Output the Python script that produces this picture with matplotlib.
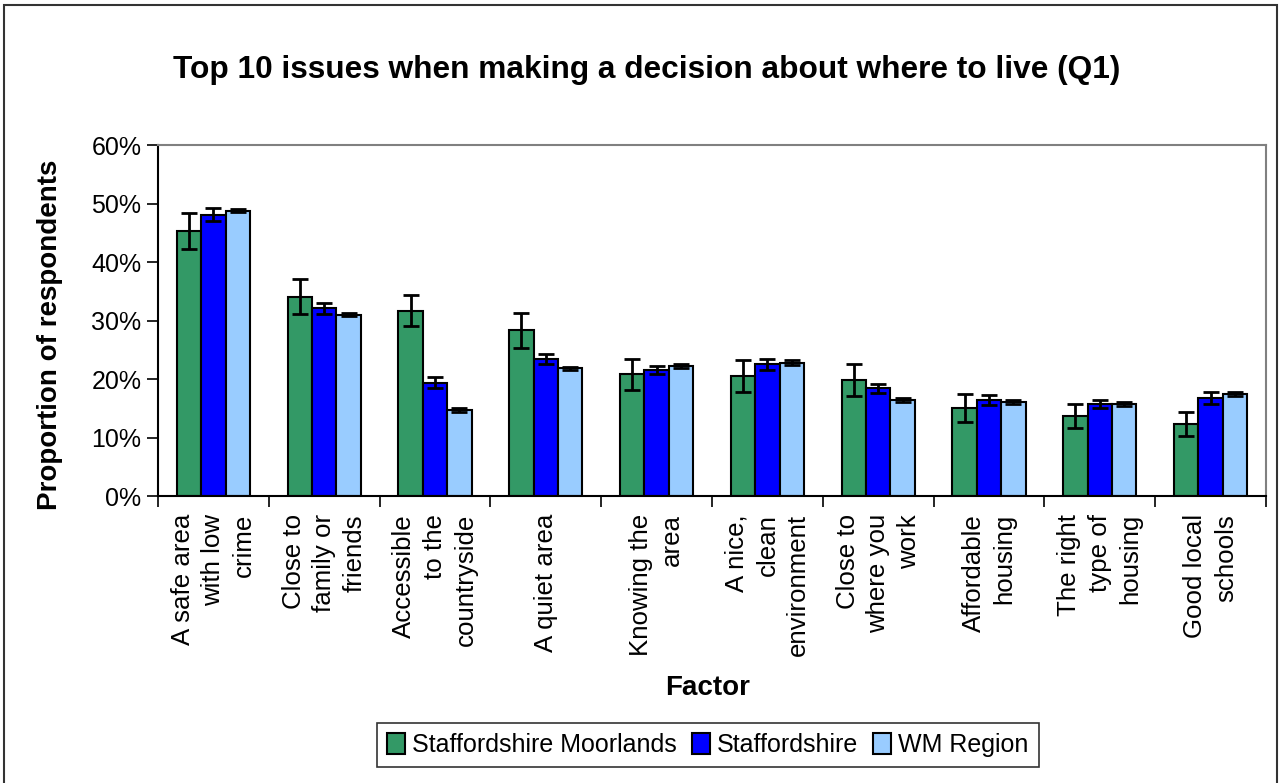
import matplotlib.pyplot as plt
import matplotlib.patches as patches
import numpy as np
from matplotlib.ticker import PercentFormatter

plt.rcParams['font.family'] = ['Liberation Sans', 'DejaVu Sans']

factors = [
    "A safe area\nwith low\ncrime",
    "Close to\nfamily or\nfriends",
    "Accessible\nto the\ncountryside",
    "A quiet area",
    "Knowing the\narea",
    "A nice,\nclean\nenvironment",
    "Close to\nwhere you\nwork",
    "Affordable\nhousing",
    "The right\ntype of\nhousing",
    "Good local\nschools",
]
series_names = ["Staffordshire Moorlands", "Staffordshire", "WM Region"]

moorlands = [45.3, 34.1, 31.7, 28.3, 20.8, 20.5, 19.8, 15.0, 13.7, 12.3]
moorlands_err = [3.0, 3.0, 2.7, 3.0, 2.7, 2.8, 2.7, 2.4, 2.1, 2.1]
staffs = [48.1, 32.1, 19.4, 23.4, 21.5, 22.5, 18.4, 16.4, 15.7, 16.7]
staffs_err = [1.1, 0.9, 1.0, 0.8, 0.7, 1.0, 0.8, 0.8, 0.7, 1.0]
wm = [48.8, 31.0, 14.7, 21.8, 22.2, 22.8, 16.4, 16.1, 15.7, 17.4]
wm_err = [0.3, 0.3, 0.3, 0.3, 0.3, 0.4, 0.3, 0.3, 0.3, 0.3]

colors = ['#339966', '#0000ff', '#99ccff']

fig = plt.figure(figsize=(12.86, 7.83), dpi=100)
ax = fig.add_axes([0.1229, 0.3665, 0.8615, 0.4483])

x = np.arange(len(factors))
w = 0.22
data = [(moorlands, moorlands_err), (staffs, staffs_err), (wm, wm_err)]
for i, (vals, errs) in enumerate(data):
    ax.bar(x + (i - 1) * w, vals, w, color=colors[i], edgecolor='black',
           linewidth=1.5, label=series_names[i],
           yerr=errs, capsize=6,
           error_kw=dict(ecolor='black', elinewidth=2, capthick=2))

ax.set_xlim(-0.5, len(factors) - 0.5)
ax.set_ylim(0, 60)
ax.set_yticks(np.arange(0, 61, 10))
ax.yaxis.set_major_formatter(PercentFormatter(decimals=0))
ax.tick_params(axis='y', direction='out', length=8, width=1.2, labelsize=18, pad=4)

# ticks between categories, labels at centres
ax.set_xticks(np.arange(-0.5, len(factors), 1.0))
ax.set_xticklabels([])
ax.set_xticks(x, minor=True)
ax.set_xticklabels(factors, minor=True, rotation=90, fontsize=18.6,
                   va='top', ha='center', multialignment='right',
                   linespacing=1.35)
ax.tick_params(axis='x', which='major', direction='out', length=8, width=1.2)
ax.tick_params(axis='x', which='minor', length=0, pad=13)

for s in ['top', 'right']:
    ax.spines[s].set_color('#808080')
    ax.spines[s].set_linewidth(1.5)
for s in ['left', 'bottom']:
    ax.spines[s].set_color('black')
    ax.spines[s].set_linewidth(1.5)

fig.text(0.503, 0.9106, "Top 10 issues when making a decision about where to live (Q1)",
         ha='center', va='center', fontsize=22.8, fontweight='bold')
fig.text(0.5505, 0.1213, "Factor", ha='center', va='center',
         fontsize=20, fontweight='bold')
fig.text(0.039, 0.572, "Proportion of respondents", ha='center', va='center',
         rotation=90, fontsize=20, fontweight='bold')

leg = fig.legend(loc='center', bbox_to_anchor=(0.5505, 0.0485), ncol=3,
                 fontsize=18, frameon=True, fancybox=False, edgecolor='black',
                 handlelength=0.7, handleheight=0.9, handletextpad=0.3,
                 columnspacing=0.6, borderpad=0.4)
leg.get_frame().set_linewidth(1.2)

# outer chart border
fig.patches.append(patches.Rectangle((4 / 1286, -0.02), 1273 / 1286, 0.02 + (783 - 5.5) / 783,
                                     transform=fig.transFigure, fill=False,
                                     edgecolor='#333333', linewidth=1.5))

fig.savefig('out.png', dpi=100)
